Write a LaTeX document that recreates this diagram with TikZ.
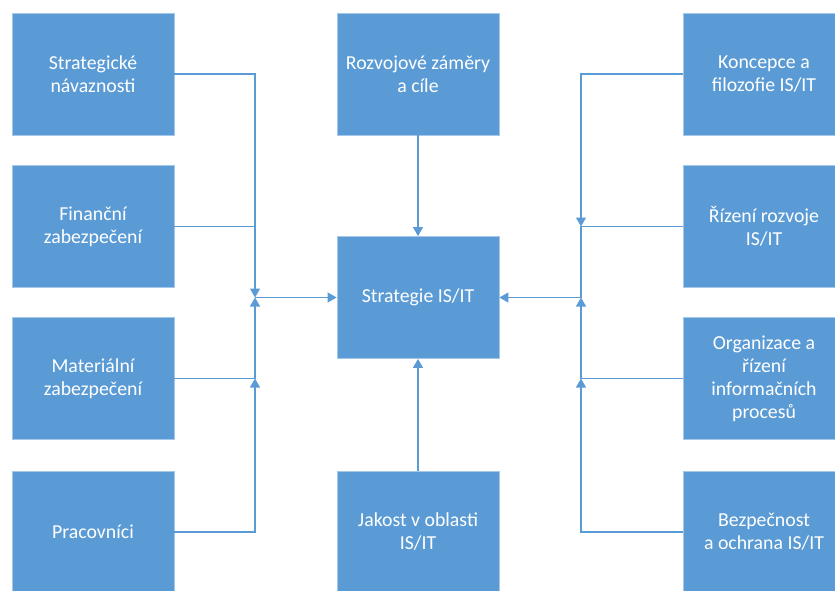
\documentclass[tikz,border=0pt]{standalone}
\usepackage{fontspec}
\setmainfont{Carlito}
\usepackage{tikz}
\usetikzlibrary{arrows.meta,calc}
\definecolor{boxblue}{RGB}{91,155,213}
\colorlet{boxedge}{boxblue!55!white}
\colorlet{linkblue}{boxblue}

\begin{document}
\begin{tikzpicture}[x=1pt,y=1pt,
    block/.style={rectangle,fill=boxblue,draw=boxedge,line width=.8pt,minimum width=162pt,minimum height=122pt,inner sep=0pt,text=white,align=center,font=\fontsize{19.8}{23}\selectfont},
    wire/.style={draw=linkblue,line width=1.1pt},
    link/.style={wire,-{Triangle[length=9pt,width=10pt]}}]
        \clip (0,0) rectangle (835,-590);
        % left column
        \node[block] (sn) at (93,-74) {Strategické\\návaznosti};
        \node[block] (fz) at (93,-226.5) {Finanční\\zabezpečení};
        \node[block] (mz) at (93,-378.5) {Materiální\\zabezpečení};
        \node[block] (pr) at (93,-532) {Pracovníci};
        % middle column
        \node[block] (rz) at (418,-74) {Rozvojové záměry\\a cíle};
        \node[block] (st) at (418,-297.5) {Strategie IS/IT};
        \node[block] (jk) at (418,-532) {Jakost v oblasti\\IS/IT};
        % right column
        \node[block] (kf) at (764,-74) {Koncepce a\\filozofie IS/IT};
        \node[block] (rr) at (764,-226.5) {Řízení rozvoje\\IS/IT};
        \node[block] (oi) at (764,-378.5) {Organizace a\\řízení\\informačních\\procesů};
        \node[block] (bo) at (764,-532) {Bezpečnost\\a ochrana IS/IT};
        \coordinate (ljoin) at (255,-297.5);
        \coordinate (rjoin) at (581,-297.5);
        \draw[link] (sn.east) -| (ljoin);
        \draw[wire] (fz.east) -- (fz.east -| ljoin);
        \draw[link] (mz.east) -| (ljoin);
        \draw[link] (pr.east) -| (ljoin |- mz.east);
        \draw[link] (ljoin) -- (st.west);
        \draw[link] (kf.west) -| (rjoin |- rr.west);
        \draw[wire] (rr.west) -| (rjoin);
        \draw[link] (oi.west) -| (rjoin);
        \draw[link] (bo.west) -| (rjoin |- oi.west);
        \draw[link] (rjoin) -- (st.east);
        \draw[link] (rz) -- (st);
        \draw[link] (jk) -- (st);
      \end{tikzpicture}
\end{document}
